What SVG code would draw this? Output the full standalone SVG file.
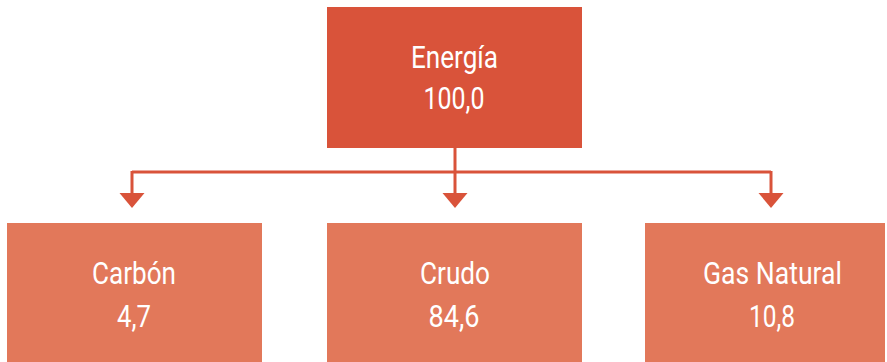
<svg xmlns="http://www.w3.org/2000/svg" width="887" height="362" viewBox="0 0 887 362">
<style>
.top{fill:#D9533A}
.sub{fill:#E2785A}
.t{font-family:Roboto,"Liberation Sans",sans-serif;font-size:32px;fill:#fff;text-anchor:middle}
.ln{stroke:#D9533A;stroke-width:3;fill:none}
.ah{fill:#D9533A}
</style>
<rect width="887" height="362" fill="#fff"/>
<g id="connectors">
<path class="ln" d="M455,148 V195"/>
<path class="ln" d="M132,172 H771"/>
<path class="ln" d="M132,171 V195"/>
<path class="ln" d="M771,171 V195"/>
<polygon class="ah" points="119.5,193 144.5,193 132,208"/>
<polygon class="ah" points="442.5,193 467.5,193 455,208"/>
<polygon class="ah" points="758.5,193 783.5,193 771,208"/>
</g>
<g id="energia">
<rect class="top" x="327" y="7" width="255" height="141"/>
<text class="t" x="454.5" y="68" textLength="87" lengthAdjust="spacingAndGlyphs">Energía</text>
<text class="t" x="454" y="109" textLength="61" lengthAdjust="spacingAndGlyphs">100,0</text>
</g>
<g id="carbon">
<rect class="sub" x="7" y="223" width="255" height="139"/>
<text class="t" x="134" y="284" textLength="84" lengthAdjust="spacingAndGlyphs">Carbón</text>
<text class="t" x="134" y="327" textLength="34" lengthAdjust="spacingAndGlyphs">4,7</text>
</g>
<g id="crudo">
<rect class="sub" x="327" y="223" width="255" height="139"/>
<text class="t" x="455" y="284" textLength="70" lengthAdjust="spacingAndGlyphs">Crudo</text>
<text class="t" x="454" y="327" textLength="51" lengthAdjust="spacingAndGlyphs">84,6</text>
</g>
<g id="gas">
<rect class="sub" x="645" y="223" width="240" height="139"/>
<text class="t" x="772.5" y="284" textLength="139" lengthAdjust="spacingAndGlyphs">Gas Natural</text>
<text class="t" x="772" y="327" textLength="46" lengthAdjust="spacingAndGlyphs">10,8</text>
</g>
</svg>
